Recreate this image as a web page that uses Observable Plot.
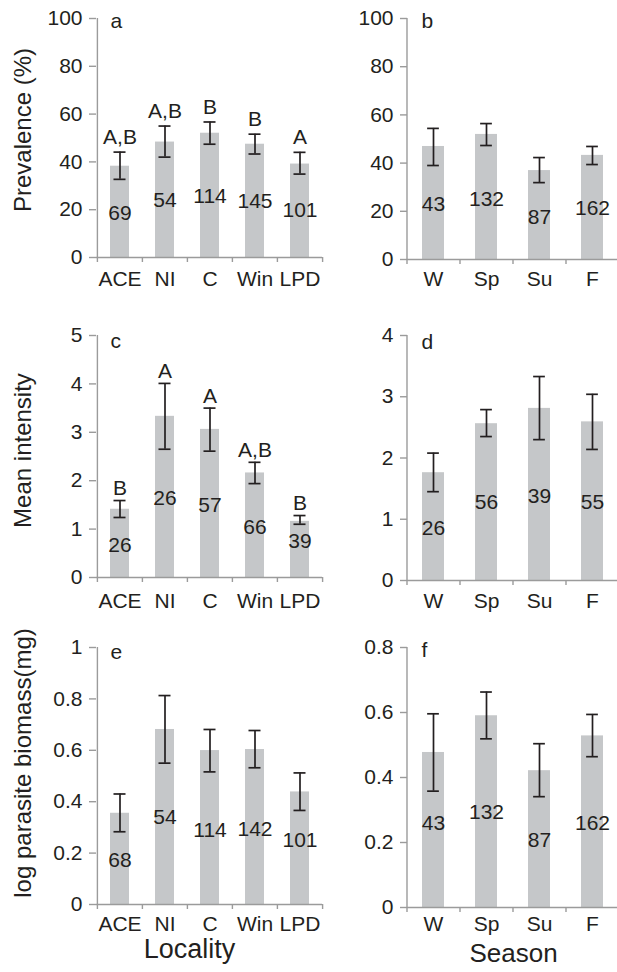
<!DOCTYPE html>
<html><head><meta charset="utf-8">
<script src="https://cdn.jsdelivr.net/npm/d3@7"></script>
<script src="https://cdn.jsdelivr.net/npm/@observablehq/plot@0.6"></script>
<style>
html,body{margin:0;padding:0;background:#fff;overflow:hidden}
#wrap{position:relative;width:617px;height:972px;overflow:hidden;background:#fff}
.p{position:absolute}
</style></head><body><div id="wrap"></div>
<script>
// categories
const localities = ["ACE", "NI", "C", "Win", "LPD"];
const seasons = ["W", "Sp", "Su", "F"];

// tick labels
const ticksPrev = [0, 20, 40, 60, 80, 100];
const ticksIntLoc = [0, 1, 2, 3, 4, 5];
const ticksIntSea = [0, 1, 2, 3, 4];
const ticksBioLoc = [0, 0.2, 0.4, 0.6, 0.8, 1];
const ticksBioSea = [0, 0.2, 0.4, 0.6, 0.8];

// (a) prevalence by locality
const prevLocMean = [38.2, 48.3, 52.0, 47.4, 39.1];
const prevLocLo = [32.7, 42.0, 47.4, 43.3, 34.9];
const prevLocHi = [44.1, 55.0, 56.7, 51.6, 44.0];
const prevLocN = [69, 54, 114, 145, 101];
const prevLocNPos = [18.5, 24, 25.6, 23.5, 19.7];
const prevLocLetters = ["A,B", "A,B", "B", "B", "A"];

// (b) prevalence by season
const prevSeaMean = [46.9, 51.9, 36.9, 43.2];
const prevSeaLo = [39.0, 47.3, 31.9, 39.4];
const prevSeaHi = [54.4, 56.4, 42.3, 46.9];
const prevSeaN = [43, 132, 87, 162];
const prevSeaNPos = [22.8, 24.9, 17.4, 21.2];

// (c) mean intensity by locality
const intLocMean = [1.41, 3.33, 3.06, 2.16, 1.16];
const intLocLo = [1.24, 2.65, 2.61, 1.94, 1.10];
const intLocHi = [1.59, 4.01, 3.50, 2.38, 1.28];
const intLocN = [26, 26, 57, 66, 39];
const intLocNPos = [0.66, 1.63, 1.49, 1.04, 0.74];
const intLocLetters = ["B", "A", "A", "A,B", "B"];

// (d) mean intensity by season
const intSeaMean = [1.76, 2.56, 2.81, 2.59];
const intSeaLo = [1.45, 2.35, 2.30, 2.14];
const intSeaHi = [2.08, 2.79, 3.33, 3.04];
const intSeaN = [26, 56, 39, 55];
const intSeaNPos = [0.85, 1.27, 1.38, 1.27];

// (e) log parasite biomass by locality
const bioLocMean = [0.355, 0.681, 0.599, 0.603, 0.438];
const bioLocLo = [0.283, 0.550, 0.516, 0.532, 0.366];
const bioLocHi = [0.430, 0.813, 0.681, 0.677, 0.512];
const bioLocN = [68, 54, 114, 142, 101];
const bioLocNPos = [0.174, 0.34, 0.29, 0.292, 0.249];

// (f) log parasite biomass by season
const bioSeaMean = [0.477, 0.590, 0.421, 0.528];
const bioSeaLo = [0.358, 0.519, 0.341, 0.464];
const bioSeaHi = [0.596, 0.663, 0.504, 0.594];
const bioSeaN = [43, 132, 87, 162];
const bioSeaNPos = [0.258, 0.292, 0.208, 0.258];

const FONT = "'Liberation Sans', Arial, Helvetica, sans-serif";
const TXT = "#231f20";
const AXIS = "#9b9b9b";
const BAR = "#c5c7c9";
const FS = 21;
const PAD_IN = 0.58;

function panel(o) {
  const rows = o.cats.map((c, i) => ({
    cat: c, mean: o.mean[i], lo: o.lo[i], hi: o.hi[i],
    n: o.n[i], npos: o.nPos[i], letter: o.letters ? o.letters[i] : null
  }));
  const last = o.cats[o.cats.length - 1];
  const step = (o.width - o.ml - o.mr) / o.cats.length;
  const bw = step * (1 - PAD_IN);
  const capInset = Math.max(0, (bw - 12) / 2);
  const fmt = d3.format("~g");
  const marks = [
    Plot.barY(rows, {x: "cat", y: "mean", fill: BAR}),
    // axis lines
    Plot.ruleY([o.yDomain[0]], {stroke: AXIS, strokeWidth: 1.4}),
    Plot.ruleX([o.cats[0]], {dx: -step / 2, y1: o.yDomain[0], y2: o.yDomain[1], stroke: AXIS, strokeWidth: 1.4}),
    // y axis
    Plot.axisY(o.yTicks, {tickSize: 7, tickPadding: 7, stroke: AXIS, strokeWidth: 1.4, tickFormat: fmt, fontSize: FS, fill: TXT, label: null}),
    // x labels
    Plot.axisX({tickSize: 0, tickPadding: o.xPad, fontSize: FS, fill: TXT, label: null}),
    // x tick marks at band boundaries
    Plot.axisX(o.cats, {tickSize: 5, tickFormat: () => "", dx: -step / 2, stroke: AXIS, strokeWidth: 1.4, label: null}),
    Plot.axisX([last], {tickSize: 5, tickFormat: () => "", dx: step / 2, stroke: AXIS, strokeWidth: 1.4, label: null}),
    // error bars
    Plot.ruleX(rows, {x: "cat", y1: "lo", y2: "hi", stroke: TXT, strokeWidth: 1.7}),
    Plot.tickY(rows, {x: "cat", y: "lo", stroke: TXT, strokeWidth: 1.7, insetLeft: capInset, insetRight: capInset}),
    Plot.tickY(rows, {x: "cat", y: "hi", stroke: TXT, strokeWidth: 1.7, insetLeft: capInset, insetRight: capInset}),
    // sample sizes
    Plot.text(rows, {x: "cat", y: "npos", text: d => String(d.n), fontSize: FS, fill: TXT, lineAnchor: "middle"}),
    // panel tag
    Plot.text([o.tag], {frameAnchor: "top-left", textAnchor: "start", lineAnchor: "middle", dx: 14, dy: o.tagDy, fontSize: FS, fill: TXT})
  ];
  if (o.letters) {
    marks.push(Plot.text(rows, {x: "cat", y: "hi", text: "letter", dy: -o.letterGap, fontSize: FS, fill: TXT, lineAnchor: "middle"}));
  }
  if (o.ylabel) {
    marks.push(Plot.text([o.ylabel], {frameAnchor: "left", textAnchor: "middle", dx: -73, dy: o.ylabelDy, rotate: -90, fontSize: 24, fill: TXT, lineAnchor: "middle"}));
  }
  if (o.xlabel) {
    marks.push(Plot.text([o.xlabel], {frameAnchor: "bottom", textAnchor: "middle", dx: o.xlabelDx || 0, dy: o.xlabelDy, fontSize: o.xlabelSize, fill: TXT, lineAnchor: "middle"}));
  }
  const chart = Plot.plot({
    width: o.width, height: o.height,
    marginLeft: o.ml, marginRight: o.mr, marginTop: o.mt, marginBottom: o.mb,
    style: {fontFamily: FONT, color: TXT, background: "transparent", overflow: "visible"},
    x: {domain: o.cats, paddingInner: PAD_IN, paddingOuter: PAD_IN / 2, axis: null, label: null},
    y: {domain: o.yDomain, axis: null, label: null},
    marks
  });
  chart.classList.add("p");
  chart.style.left = o.left + "px";
  chart.style.top = o.top + "px";
  document.getElementById("wrap").appendChild(chart);
}

panel({cats: localities, mean: prevLocMean, lo: prevLocLo, hi: prevLocHi, n: prevLocN, nPos: prevLocNPos,
  letters: prevLocLetters, letterGap: 15, yDomain: [0, 100], yTicks: ticksPrev, tag: "a",
  ylabel: "Prevalence (%)", ylabelDy: -8, left: 0, top: 0, width: 330, height: 300,
  ml: 96, mr: 8, mt: 18, mb: 43, xPad: 14, tagDy: 2.5});

panel({cats: seasons, mean: prevSeaMean, lo: prevSeaLo, hi: prevSeaHi, n: prevSeaN, nPos: prevSeaNPos,
  yDomain: [0, 100], yTicks: ticksPrev, tag: "b",
  left: 310, top: 0, width: 310, height: 300,
  ml: 97, mr: 1, mt: 18, mb: 41, xPad: 12, tagDy: 3});

panel({cats: localities, mean: intLocMean, lo: intLocLo, hi: intLocHi, n: intLocN, nPos: intLocNPos,
  letters: intLocLetters, letterGap: 12, yDomain: [0, 5], yTicks: ticksIntLoc, tag: "c",
  ylabel: "Mean intensity", ylabelDy: -6, left: 0, top: 300, width: 330, height: 320,
  ml: 96, mr: 8, mt: 35, mb: 43, xPad: 16, tagDy: 6});

panel({cats: seasons, mean: intSeaMean, lo: intSeaLo, hi: intSeaHi, n: intSeaN, nPos: intSeaNPos,
  yDomain: [0, 4], yTicks: ticksIntSea, tag: "d",
  left: 310, top: 300, width: 310, height: 320,
  ml: 97, mr: 1, mt: 35, mb: 40, xPad: 13, tagDy: 6.5});

panel({cats: localities, mean: bioLocMean, lo: bioLocLo, hi: bioLocHi, n: bioLocN, nPos: bioLocNPos,
  yDomain: [0, 1], yTicks: ticksBioLoc, tag: "e",
  ylabel: "log parasite biomass(mg)", ylabelDy: -13, xlabel: "Locality", xlabelDx: -20, xlabelDy: 45, xlabelSize: 27,
  left: 0, top: 630, width: 330, height: 342,
  ml: 96, mr: 8, mt: 17, mb: 68, xPad: 12, tagDy: 4.5});

panel({cats: seasons, mean: bioSeaMean, lo: bioSeaLo, hi: bioSeaHi, n: bioSeaN, nPos: bioSeaNPos,
  yDomain: [0, 0.8], yTicks: ticksBioSea, tag: "f",
  xlabel: "Season", xlabelDy: 46, xlabelSize: 26,
  left: 310, top: 630, width: 310, height: 342,
  ml: 97, mr: 1, mt: 17, mb: 65, xPad: 9, tagDy: 3});
</script>
</body></html>
